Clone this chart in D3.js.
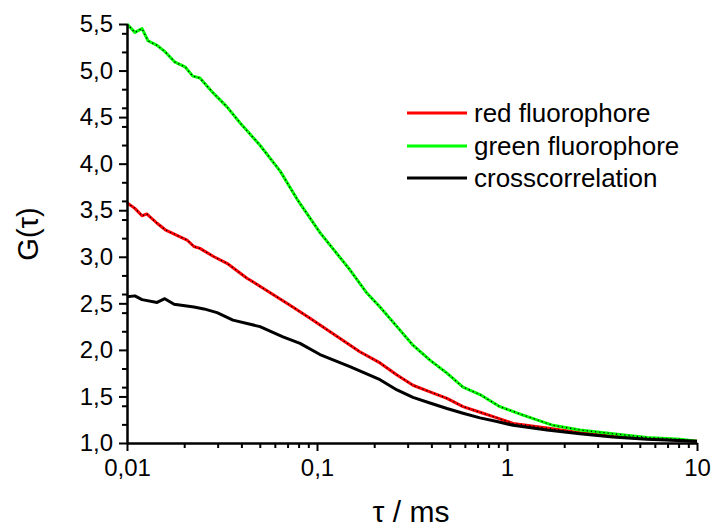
<!DOCTYPE html>
<html>
<head>
<meta charset="utf-8">
<script src="https://cdn.jsdelivr.net/npm/d3@7"></script>
<style>
  body { margin: 0; background: #fff; }
  text { font-family: "Liberation Sans", Arial, sans-serif; fill: #000; }
</style>
</head>
<body>
<script>
// values (tau in ms, G(tau))
var redTau = [0.01, 0.011, 0.012, 0.0127, 0.0144, 0.0159, 0.0207, 0.0225, 0.0242, 0.0287, 0.0336, 0.0428, 0.0444, 0.0721, 0.0919, 0.168, 0.2146, 0.2636, 0.32, 0.393, 0.483, 0.587, 0.721, 0.886, 1.076, 1.624, 2.42, 3.61, 5.46, 10];
var redG   = [3.58, 3.52, 3.44, 3.46, 3.36, 3.29, 3.18, 3.11, 3.09, 3.00, 2.93, 2.77, 2.75, 2.48, 2.34, 1.98, 1.86, 1.73, 1.62, 1.55, 1.48, 1.39, 1.33, 1.27, 1.21, 1.16, 1.11, 1.075, 1.05, 1.02];

var greenTau = [0.01, 0.011, 0.012, 0.0129, 0.0144, 0.0159, 0.0179, 0.0202, 0.0222, 0.0242, 0.0284, 0.0336, 0.0393, 0.05, 0.064, 0.0785, 0.1037, 0.149, 0.183, 0.2146, 0.2636, 0.32, 0.393, 0.483, 0.587, 0.721, 0.918, 1.214, 1.746, 2.42, 3.61, 5.46, 8.14, 10];
var greenG   = [5.50, 5.41, 5.45, 5.32, 5.27, 5.20, 5.09, 5.04, 4.94, 4.92, 4.76, 4.61, 4.44, 4.20, 3.92, 3.62, 3.26, 2.86, 2.61, 2.46, 2.25, 2.05, 1.89, 1.75, 1.60, 1.52, 1.39, 1.30, 1.19, 1.14, 1.10, 1.06, 1.04, 1.02];

var crossTau = [0.01, 0.011, 0.012, 0.0144, 0.0158, 0.0177, 0.0225, 0.0254, 0.0298, 0.0361, 0.0501, 0.0662, 0.0814, 0.1037, 0.149, 0.2146, 0.2636, 0.32, 0.393, 0.483, 0.587, 0.721, 0.886, 1.076, 1.624, 2.42, 3.61, 5.46, 10];
var crossG   = [2.57, 2.58, 2.54, 2.51, 2.55, 2.49, 2.46, 2.44, 2.40, 2.32, 2.25, 2.14, 2.07, 1.95, 1.82, 1.68, 1.57, 1.49, 1.43, 1.37, 1.32, 1.27, 1.23, 1.19, 1.14, 1.10, 1.065, 1.04, 1.02];

var seriesNames = ["red fluorophore", "green fluorophore", "crosscorrelation"];
var seriesColors = ["#ff0000", "#00ff00", "#000000"];

var xTickValues = [0.01, 0.1, 1, 10];
var xTickLabels = ["0,01", "0,1", "1", "10"];
var yTickValues = [1, 1.5, 2, 2.5, 3, 3.5, 4, 4.5, 5, 5.5];
var yTickLabels = ["1,0", "1,5", "2,0", "2,5", "3,0", "3,5", "4,0", "4,5", "5,0", "5,5"];

var w = 714;
var h = 530;

var svg = d3.select('body')
  .append('svg')
  .attr('width', w)
  .attr('height', h);

var x = d3.scaleLog().domain([0.01, 10]).range([127, 697]);
var y = d3.scaleLinear().domain([1, 5.5]).range([443, 24]);

// minor ticks
var xMinor = x.ticks().filter(function(d) { return xTickValues.indexOf(d) < 0; });
var yMinor = y.ticks(18).filter(function(d) { return Math.abs(d * 2 - Math.round(d * 2)) > 0.01; });

var gxMinor = svg.append('g')
  .attr('transform', 'translate(0,443)')
  .call(d3.axisBottom(x).tickValues(xMinor).tickSize(5).tickFormat(''));
gxMinor.select('.domain').remove();

var gyMinor = svg.append('g')
  .attr('transform', 'translate(127,0)')
  .call(d3.axisLeft(y).tickValues(yMinor).tickSize(5).tickFormat(''));
gyMinor.select('.domain').remove();

var gx = svg.append('g')
  .attr('transform', 'translate(0,443)')
  .call(d3.axisBottom(x)
    .tickValues(xTickValues)
    .tickSize(8)
    .tickSizeOuter(0)
    .tickPadding(8)
    .tickFormat(function(d, i) { return xTickLabels[i]; }));

var gy = svg.append('g')
  .attr('transform', 'translate(127,0)')
  .call(d3.axisLeft(y)
    .tickValues(yTickValues)
    .tickSize(8)
    .tickSizeOuter(0)
    .tickPadding(6)
    .tickFormat(function(d, i) { return yTickLabels[i]; }));

svg.selectAll('.tick line').attr('stroke', '#000').attr('stroke-width', 2);
svg.selectAll('.domain').attr('stroke', '#000').attr('stroke-width', 2.5);
svg.selectAll('.tick text').attr('font-size', 24).attr('font-family', '"Liberation Sans", Arial, sans-serif');

// curves
var line = d3.line()
  .x(function(d) { return x(d[0]); })
  .y(function(d) { return y(d[1]); });

var series = [
  d3.zip(redTau, redG),
  d3.zip(greenTau, greenG),
  d3.zip(crossTau, crossG)
];

svg.selectAll('path.curve')
  .data(series)
  .enter()
  .append('path')
  .attr('class', 'curve')
  .attr('d', line)
  .attr('fill', 'none')
  .attr('stroke', function(d, i) { return seriesColors[i]; })
  .attr('stroke-width', 3)
  .attr('stroke-linejoin', 'round');

// dotted fit overlay
svg.selectAll('path.fit')
  .data(series.slice(0, 2))
  .enter()
  .append('path')
  .attr('class', 'fit')
  .attr('d', line)
  .attr('fill', 'none')
  .attr('stroke', '#000')
  .attr('stroke-width', 1.3)
  .attr('stroke-dasharray', '1.2,3');

// redraw axes lines on top
svg.node().appendChild(gx.node());
svg.node().appendChild(gy.node());

// legend
var legend = svg.append('g');
var legendY = [113, 146, 178];
seriesNames.forEach(function(name, i) {
  legend.append('line')
    .attr('x1', 407).attr('x2', 467)
    .attr('y1', legendY[i]).attr('y2', legendY[i])
    .attr('stroke', seriesColors[i])
    .attr('stroke-width', 3);
  legend.append('text')
    .attr('x', 474)
    .attr('y', legendY[i])
    .attr('dy', '0.36em')
    .attr('font-size', 26)
    .text(name);
});

// axis titles
svg.append('text')
  .attr('x', 411)
  .attr('y', 522)
  .attr('text-anchor', 'middle')
  .attr('font-size', 30)
  .text('\u03c4 / ms');

svg.append('text')
  .attr('transform', 'translate(38,234) rotate(-90)')
  .attr('text-anchor', 'middle')
  .attr('font-size', 29)
  .text('G(\u03c4)');
</script>
</body>
</html>
